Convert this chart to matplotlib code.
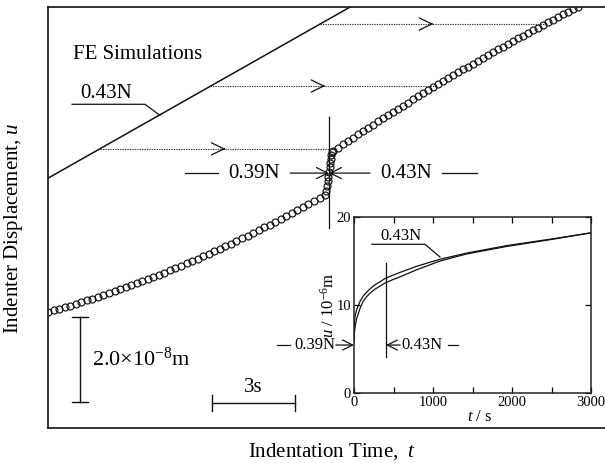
import numpy as np
import matplotlib
matplotlib.use("Agg")
import matplotlib.pyplot as plt

plt.rcParams['font.family'] = ['Liberation Serif', 'DejaVu Serif']
plt.rcParams['mathtext.fontset'] = 'custom'
plt.rcParams['mathtext.rm'] = 'Liberation Serif'
plt.rcParams['mathtext.it'] = 'Liberation Serif:italic'

# main panel: time in s, displacement in nm (arbitrary offset)
t_low = [0.0, 0.2, 0.4, 0.6, 0.8, 1.0, 1.2, 1.4, 1.6, 1.8, 2.0, 2.2, 2.4, 2.6, 2.8,
         3.0, 3.2, 3.4, 3.6, 3.8, 4.0, 4.2, 4.4, 4.6, 4.8, 5.0, 5.2, 5.4, 5.6, 5.8,
         6.0, 6.2, 6.4, 6.6, 6.8, 7.0, 7.2, 7.4, 7.6, 7.8, 8.0, 8.2, 8.4, 8.6, 8.8,
         9.0, 9.2, 9.4, 9.6, 9.8, 10.0]
u_low = [27.3, 27.67, 28.04, 28.42, 28.81, 29.21, 29.61, 30.02, 30.44, 30.87, 31.31,
         31.75, 32.2, 32.66, 33.12, 33.59, 34.08, 34.56, 35.06, 35.56, 36.07, 36.59,
         37.12, 37.65, 38.19, 38.74, 39.3, 39.86, 40.43, 41.01, 41.6, 42.19, 42.79,
         43.4, 44.02, 44.65, 45.28, 45.92, 46.57, 47.22, 47.88, 48.55, 49.23, 49.92,
         50.61, 51.31, 52.02, 52.74, 53.46, 54.19, 54.93]
t_jump = [10.05, 10.08, 10.1, 10.12, 10.14, 10.16, 10.18, 10.2, 10.23, 10.26]
u_jump = [55.9, 57.0, 58.1, 59.2, 60.3, 61.4, 62.4, 63.4, 64.3, 65.0]
t_high = [10.3, 10.48, 10.66, 10.84, 11.02, 11.2, 11.38, 11.56, 11.74, 11.92, 12.1,
          12.28, 12.46, 12.64, 12.82, 13.0, 13.18, 13.36, 13.54, 13.72, 13.9, 14.08,
          14.26, 14.44, 14.62, 14.8, 14.98, 15.16, 15.34, 15.52, 15.7, 15.88, 16.06,
          16.24, 16.42, 16.6, 16.78, 16.96, 17.14, 17.32, 17.5, 17.68, 17.86, 18.04,
          18.22, 18.4, 18.58, 18.76, 18.94, 19.12]
u_high = [65.2, 65.99, 66.77, 67.55, 68.33, 69.1, 69.87, 70.63, 71.39, 72.15, 72.9,
          73.65, 74.39, 75.13, 75.87, 76.6, 77.33, 78.05, 78.77, 79.49, 80.2, 80.91,
          81.62, 82.32, 83.01, 83.71, 84.4, 85.08, 85.76, 86.44, 87.11, 87.78, 88.45,
          89.11, 89.77, 90.42, 91.08, 91.72, 92.36, 93.0, 93.64, 94.27, 94.89, 95.52,
          96.13, 96.75, 97.36, 97.97, 98.57, 99.17]

fe_t = [0.0, 11.5]
fe_u = [58.8, 101.3]

# horizontal shift arrows: level, start (FE), arrow head, end (data)
shift_u = [95.1, 80.5, 65.7]
shift_start = [9.81, 5.86, 1.86]
shift_head = [13.9, 10.0, 6.4]
shift_end = [18.0, 14.0, 10.3]

t_switch = 10.14

# inset: creep curves
ins_t = [0, 5, 15, 35, 76, 115, 160, 210, 266, 330, 392, 482, 582, 793, 1089, 1426,
         1933, 2500, 3000]
ins_u43 = [5.8, 8.0, 8.8, 9.5, 10.4, 11.0, 11.45, 11.9, 12.3, 12.65, 13.0, 13.35,
           13.7, 14.4, 15.2, 15.9, 16.75, 17.5, 18.2]
ins_usw = [5.8, 6.8, 7.6, 8.5, 9.6, 10.4, 10.95, 11.4, 11.8, 12.15, 12.5, 12.85,
           13.2, 14.0, 15.0, 15.8, 16.65, 17.45, 18.2]
ins_switch = 405

fig = plt.figure(figsize=(6.05, 4.63), dpi=100)
ax = fig.add_axes([48 / 605, 35 / 463, 557 / 605 + 0.01, 421 / 463])
ax.set_xlim(0, 20.1 + 0.22)
ax.set_ylim(0, 99.1)
ax.spines['right'].set_visible(False)
for s in ['left', 'top', 'bottom']:
    ax.spines[s].set_linewidth(1.3)
    ax.spines[s].set_color('#222222')
ax.set_xticks([])
ax.set_yticks([])

k = '#111111'
ax.plot(fe_t, fe_u, color=k, lw=1.1, clip_on=True)
for tt, uu in [(t_low, u_low), (t_jump, u_jump), (t_high, u_high)]:
    ax.plot(tt, uu, 'o', ms=5.0, mfc='none', mec=k, mew=0.85)

for u0, a, h, b in zip(shift_u, shift_start, shift_head, shift_end):
    ax.plot([a, b], [u0, u0], color='#333333', lw=0.8, ls=(0, (1.2, 1.0)))
    ax.annotate('', xy=(h, u0), xytext=(h - 0.05, u0),
                arrowprops=dict(arrowstyle='->,head_length=0.45,head_width=0.22',
                                lw=0.9, color=k, mutation_scale=20,
                                shrinkA=0, shrinkB=0))

# switch marker
ax.plot([t_switch, t_switch], [47.0, 73.2], color=k, lw=0.9)
ya = 60.0
ax.plot([4.95, 6.14], [ya, ya], color=k, lw=0.9)
ax.text(7.44, ya, '0.39N', ha='center', va='center', fontsize=15)
ax.annotate('', xy=(t_switch, ya), xytext=(8.74, ya),
            arrowprops=dict(arrowstyle='->,head_length=0.4,head_width=0.2',
                            lw=0.9, color=k, mutation_scale=20, shrinkA=0, shrinkB=0))
ax.annotate('', xy=(t_switch, ya), xytext=(11.62, ya),
            arrowprops=dict(arrowstyle='->,head_length=0.4,head_width=0.2',
                            lw=0.9, color=k, mutation_scale=20, shrinkA=0, shrinkB=0))
ax.text(12.92, ya, '0.43N', ha='center', va='center', fontsize=15)
ax.plot([14.22, 15.49], [ya, ya], color=k, lw=0.9)

ax.text(0.9, 88.0, 'FE Simulations', fontsize=15, va='center')
ax.text(1.15, 78.8, '0.43N', fontsize=15, va='center')
ax.plot([0.87, 3.5, 4.04], [76.2, 76.2, 73.6], color=k, lw=0.9)

# scale bars
ax.plot([1.155, 1.155], [6.1, 26.1], color=k, lw=1.0)
ax.plot([0.87, 1.44], [26.1, 26.1], color=k, lw=1.0)
ax.plot([0.87, 1.44], [6.1, 6.1], color=k, lw=1.0)
ax.text(1.6, 16.3, r'2.0$\times$10$^{-8}$m', fontsize=16, va='center')
ax.plot([5.92, 8.92], [5.9, 5.9], color=k, lw=1.0)
ax.plot([5.92, 5.92], [4.0, 7.8], color=k, lw=1.0)
ax.plot([8.92, 8.92], [4.0, 7.8], color=k, lw=1.0)
ax.text(7.42, 7.4, '3s', fontsize=15, ha='center', va='bottom')

fig.text(14 / 605, 1 - 228 / 463, r'Indenter Displacement, $u$', rotation=90,
         ha='center', va='center', fontsize=15)
fig.text(332 / 605, 1 - 452 / 463, r'Indentation Time,  $t$',
         ha='center', va='center', fontsize=15)

# inset
ins = fig.add_axes([354 / 605, 70 / 463, 237 / 605, 176 / 463])
ins.set_xlim(0, 3000)
ins.set_ylim(0, 20)
ins.plot(ins_t, ins_u43, color=k, lw=0.9)
ins.plot(ins_t, ins_usw, color=k, lw=0.9)
ins.set_xticks([0, 1000, 2000, 3000])
ins.set_xticks([500, 1500, 2500], minor=True)
ins.set_yticks([0, 10, 20])
ins.tick_params(which='both', direction='in', top=True, right=True, length=4,
                width=0.9, labelsize=10.5, pad=2)
ins.tick_params(which='minor', length=4)
for s in ins.spines.values():
    s.set_linewidth(1.1)
    s.set_color('#222222')
ins.set_xlabel(r'$t$ / s', fontsize=12)
ins.xaxis.set_label_coords(0.53, -0.09)
ins.set_ylabel(r'$u$ / 10$^{-6}$m', fontsize=12, labelpad=-1)

ins.plot([ins_switch, ins_switch], [4.1, 14.8], color=k, lw=0.9)
yi = 5.45
ins.annotate('', xy=(0, yi), xytext=(-230, yi), annotation_clip=False,
             arrowprops=dict(arrowstyle='->,head_length=0.4,head_width=0.2',
                             lw=0.9, color=k, mutation_scale=18, shrinkA=0, shrinkB=0))
ins.text(-240, yi, '0.39N', fontsize=12, ha='right', va='center')
ins.plot([-970, -810], [yi, yi], color=k, lw=0.9, clip_on=False)
ins.annotate('', xy=(ins_switch, yi), xytext=(ins_switch + 180, yi),
             arrowprops=dict(arrowstyle='->,head_length=0.4,head_width=0.2',
                             lw=0.9, color=k, mutation_scale=18, shrinkA=0, shrinkB=0))
ins.text(ins_switch + 200, yi, '0.43N', fontsize=12, ha='left', va='center')
ins.plot([1190, 1320], [yi, yi], color=k, lw=0.9)
ins.text(330, 17.8, '0.43N', fontsize=12, ha='left', va='center')
ins.plot([228, 899, 1089], [16.9, 16.9, 15.45], color=k, lw=0.9)

fig.savefig('out.png', dpi=100)
